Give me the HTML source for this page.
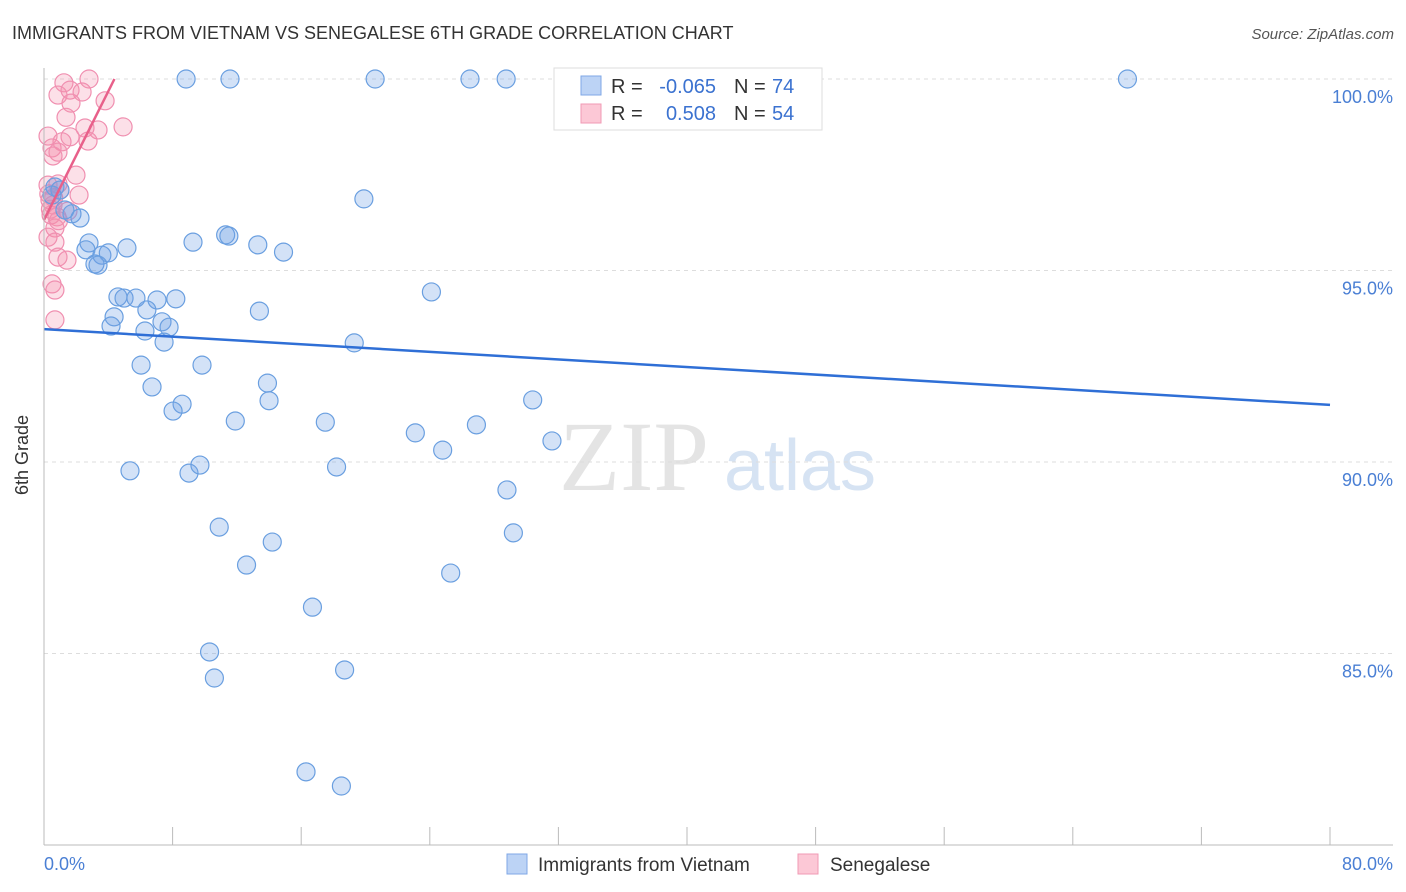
<!DOCTYPE html>
<html><head><meta charset="utf-8"><style>
body{margin:0;background:#fff;font-family:"Liberation Sans",sans-serif;}
svg{display:block}
</style></head><body>
<svg id="c" width="1406" height="892">
<text x="12" y="39" font-size="18" fill="#333">IMMIGRANTS FROM VIETNAM VS SENEGALESE 6TH GRADE CORRELATION CHART</text>
<text x="1394" y="39" font-size="15" fill="#555" font-style="italic" text-anchor="end">Source: ZipAtlas.com</text>
<text x="634" y="490" font-size="100" fill="#e4e4e4" text-anchor="middle" font-family="Liberation Serif,serif">ZIP</text>
<text x="800" y="490" font-size="72" fill="#d6e3f3" text-anchor="middle">atlas</text>
<g id="grid"></g><g id="pts"></g><g id="lines"></g>
<line x1="44" y1="68" x2="44" y2="845" stroke="#bbb"/>
<line x1="44" y1="845" x2="1393" y2="845" stroke="#bbb"/>
<text x="28" y="455" font-size="18" fill="#333" transform="rotate(-90 28 455)" text-anchor="middle">6th Grade</text>
<text x="44" y="870" font-size="18" fill="#4a7fd4">0.0%</text>
<text x="1393" y="870" font-size="18" fill="#4a7fd4" text-anchor="end">80.0%</text>
<g>
<rect x="554" y="68" width="268" height="62" fill="#fff" stroke="#ddd"/>
<rect x="581" y="76" width="20" height="19" fill="#bcd3f5" stroke="#7fa7e6"/>
<rect x="581" y="104" width="20" height="19" fill="#fcc8d6" stroke="#f09ab4"/>
<text x="611" y="93" font-size="20" fill="#333">R =</text><text x="716" y="93" font-size="20" fill="#3b72d0" text-anchor="end">-0.065</text>
<text x="734" y="93" font-size="20" fill="#333">N =</text><text x="772" y="93" font-size="20" fill="#3b72d0">74</text>
<text x="611" y="120" font-size="20" fill="#333">R =</text><text x="716" y="120" font-size="20" fill="#3b72d0" text-anchor="end">0.508</text>
<text x="734" y="120" font-size="20" fill="#333">N =</text><text x="772" y="120" font-size="20" fill="#3b72d0">54</text>
</g>
<g><rect x="507" y="854" width="20" height="20" fill="#bcd3f5" stroke="#7fa7e6"/><text x="538" y="871" font-size="19" fill="#333">Immigrants from Vietnam</text></g>
<g><rect x="798" y="854" width="20" height="20" fill="#fcc8d6" stroke="#f09ab4"/><text x="830" y="871" font-size="19" fill="#333">Senegalese</text></g>
</svg>
<script>
const yTicks=[100,95,90,85];
const xTicks=[0,8,16,24,32,40,48,56,64,72,80];
const blueX=[8.84,11.57,20.6,26.5,28.75,43.3,67.4,19.9,0.68,0.99,0.5,1.74,2.24,1.3,11.3,11.5,9.27,13.3,14.9,5.16,2.8,2.61,3.6,4.0,3.17,3.36,24.1,4.6,4.98,5.72,7.03,8.2,6.4,13.4,4.36,4.17,7.34,7.78,6.28,7.47,19.3,6.04,9.83,6.72,13.9,14.0,8.59,8.03,30.4,11.9,17.5,26.9,23.1,24.8,31.6,5.35,9.02,9.7,18.2,28.8,10.9,29.2,14.2,12.6,25.3,16.7,10.3,10.6,18.7,16.3,18.5];
const blueY=[100,100,100,100,100,100,100,96.87,97.18,97.1,96.97,96.48,96.37,96.58,95.93,95.9,95.74,95.67,95.48,95.59,95.72,95.54,95.4,95.46,95.17,95.14,94.44,94.31,94.28,94.28,94.23,94.26,93.97,93.94,93.79,93.55,93.66,93.52,93.42,93.13,93.11,92.53,92.53,91.96,92.06,91.6,91.51,91.33,91.62,91.07,91.04,90.97,90.76,90.31,90.55,89.77,89.71,89.92,89.87,89.27,88.3,88.15,87.91,87.31,87.1,86.21,85.04,84.36,84.57,81.91,81.54];
const pinkX=[1.24,2.8,0.87,1.62,2.37,1.68,3.8,1.37,3.36,2.55,4.92,0.25,1.62,2.74,1.12,0.5,0.87,0.56,1.99,0.25,0.87,2.18,0.37,0.56,1.49,0.44,0.81,0.68,0.25,0.68,0.87,1.43,0.5,0.68,0.68,0.3,0.6,1.0,0.4,0.9];
const pinkY=[99.9,100,99.58,99.71,99.66,99.37,99.43,99.0,98.67,98.72,98.75,98.51,98.49,98.38,98.36,98.2,98.09,97.99,97.49,97.23,97.26,96.97,96.84,96.71,96.55,96.45,96.4,96.11,95.87,95.74,95.35,95.27,94.65,94.49,93.71,97.0,96.9,97.1,96.6,96.3];
const blueTrend=[93.47,91.49];
const pinkTrend=[96.32,0.84];
const X=v=>44+v*16.075, Y=v=>79+(100-v)*38.3;
const NS='http://www.w3.org/2000/svg';
function mk(t,a,p){const e=document.createElementNS(NS,t);for(const k in a)e.setAttribute(k,a[k]);p.appendChild(e);return e;}
const grid=document.getElementById('grid');
yTicks.forEach(v=>{const l=mk('line',{x1:44,x2:1393,y1:Y(v),y2:Y(v),stroke:'#ddd','stroke-dasharray':'4,4'},grid);


const t=mk('text',{x:1393,y:Y(v)+24,'font-size':18,fill:'#4a7fd4','text-anchor':'end'},grid);t.textContent=v.toFixed(1)+'%';

});
xTicks.forEach(v=>{const l=mk('line',{x1:X(v),x2:X(v),y1:827,y2:845,stroke:'#bbb'},grid);

});
const pts=document.getElementById('pts');
pinkX.forEach((v,i)=>{const c=mk('circle',{cx:X(v),cy:Y(pinkY[i]),r:9,fill:'rgba(244,143,172,0.28)',stroke:'#f08fb0','stroke-width':1.2},pts);

});
blueX.forEach((v,i)=>{const c=mk('circle',{cx:X(v),cy:Y(blueY[i]),r:9,fill:'rgba(110,160,230,0.3)',stroke:'#6a9fe0','stroke-width':1.2},pts);

});
const lines=document.getElementById('lines');
const bl=mk('line',{x1:X(0),y1:Y(blueTrend[0]),x2:X(80),y2:Y(blueTrend[1]),stroke:'#2f6fd6','stroke-width':2.5},lines);


const xe=(100-pinkTrend[0])/pinkTrend[1];
const pl=mk('line',{x1:X(0),y1:Y(pinkTrend[0]),x2:X(xe),y2:Y(100),stroke:'#e8608a','stroke-width':2.5},lines);


</script>
</body></html>
